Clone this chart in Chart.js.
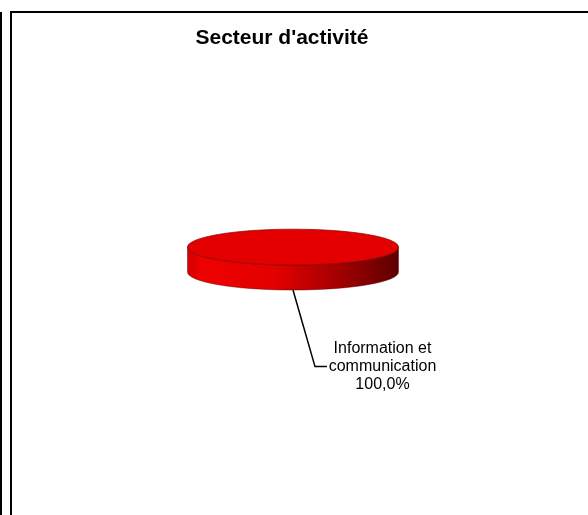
<!DOCTYPE html>
<html>
<head>
<meta charset="utf-8">
<script src="https://cdn.jsdelivr.net/npm/chart.js@4"></script>
<style>
    html, body {margin: 0; padding: 0; background: #fff; width: 588px; height: 515px; overflow: hidden}
    .rule {position: absolute; left: 0; top: 12px; bottom: 0; width: 2px; background: #000}
    .frame {position: absolute; left: 10px; top: 11px; right: 0; bottom: 0; border-top: 2px solid #000; border-left: 2px solid #000}
    #chart {position: absolute; left: 0; top: 0}
</style>
</head>
<body>
<div class="rule"></div>
<div class="frame"></div>
<canvas id="chart" width="588" height="515"></canvas>
<script>
const categories = [['Information et', 'communication']];
const shares = [100];
const sliceColors = ['#e40000'];
const chartTitle = "Secteur d'activité";

const font = "'Liberation Sans', Arial, sans-serif";
const tilt = 0.17;        // squash of the disc
const depthRatio = 0.237; // height of the side / radius
const shiftX = 11;        // pie sits a bit right of the title

const pct = v => (v / shares.reduce((a, b) => a + b, 0) * 100).toFixed(1).replace('.', ',') + '%';

const pie3d = {
    id: 'pie3d',
    beforeDatasetsDraw(chart) {
        const {ctx} = chart;
        const arc = chart.getDatasetMeta(0).data[0];
        const cx = arc.x + shiftX, cy = arc.y, rx = arc.outerRadius, ry = rx * tilt, d = rx * depthRatio;

        // side of the disc
        const g = ctx.createLinearGradient(cx - rx, 0, cx + rx, 0);
        g.addColorStop(0, '#d20000');
        g.addColorStop(0.07, '#f00000');
        g.addColorStop(0.42, '#e20000');
        g.addColorStop(0.7, '#a60000');
        g.addColorStop(0.92, '#700000');
        g.addColorStop(1, '#5c0000');
        ctx.save();
        ctx.beginPath();
        ctx.moveTo(cx - rx, cy);
        ctx.lineTo(cx - rx, cy + d);
        ctx.ellipse(cx, cy + d, rx, ry, 0, Math.PI, 0, true);
        ctx.lineTo(cx + rx, cy);
        ctx.ellipse(cx, cy, rx, ry, 0, 0, Math.PI, false);
        ctx.closePath();
        ctx.fillStyle = g;
        ctx.fill();
        ctx.strokeStyle = 'rgba(90,0,0,0.45)';
        ctx.lineWidth = 1;
        ctx.stroke();
        ctx.restore();

        // top face: let Chart.js draw it in a squashed frame
        ctx.save();
        ctx.translate(cx, cy);
        ctx.scale(1, tilt);
        ctx.translate(-arc.x, -cy);
    },
    afterDatasetsDraw(chart) {
        const {ctx} = chart;
        ctx.restore();
        const arc = chart.getDatasetMeta(0).data[0];
        const cx = arc.x + shiftX, cy = arc.y, rx = arc.outerRadius, ry = rx * tilt, d = rx * depthRatio;

        ctx.save();
        ctx.beginPath();
        ctx.ellipse(cx, cy, rx, ry, 0, 0, Math.PI * 2);
        ctx.strokeStyle = 'rgba(130,0,0,0.7)';
        ctx.lineWidth = 1;
        ctx.stroke();

        // leader line
        ctx.beginPath();
        ctx.moveTo(cx, cy + ry + d);
        ctx.lineTo(cx + 22, cy + 119.5);
        ctx.lineTo(cx + 34, cy + 119.5);
        ctx.strokeStyle = '#000';
        ctx.lineWidth = 1.5;
        ctx.stroke();

        // label
        const lines = [...categories[0], pct(shares[0])];
        ctx.font = `16px ${font}`;
        ctx.fillStyle = '#000';
        ctx.textAlign = 'center';
        ctx.textBaseline = 'alphabetic';
        lines.forEach((t, i) => ctx.fillText(t, cx + 89.5, cy + 106 + i * 18));
        ctx.restore();
    }
};

new Chart(document.getElementById('chart'), {
    type: 'pie',
    data: {
        labels: categories,
        datasets: [{
            data: shares,
            backgroundColor: sliceColors,
            borderWidth: 0,
            clip: false
        }]
    },
    options: {
        responsive: false,
        animation: false,
        events: [],
        radius: 105.5,
        layout: {padding: {left: 0, right: 24, top: 0, bottom: 82}},
        plugins: {
            legend: {display: false},
            tooltip: {enabled: false},
            title: {
                display: true,
                text: chartTitle,
                color: '#000',
                font: {family: font, size: 21, weight: 'bold'},
                padding: {top: 26, bottom: 10}
            }
        }
    },
    plugins: [pie3d]
});
</script>
</body>
</html>
